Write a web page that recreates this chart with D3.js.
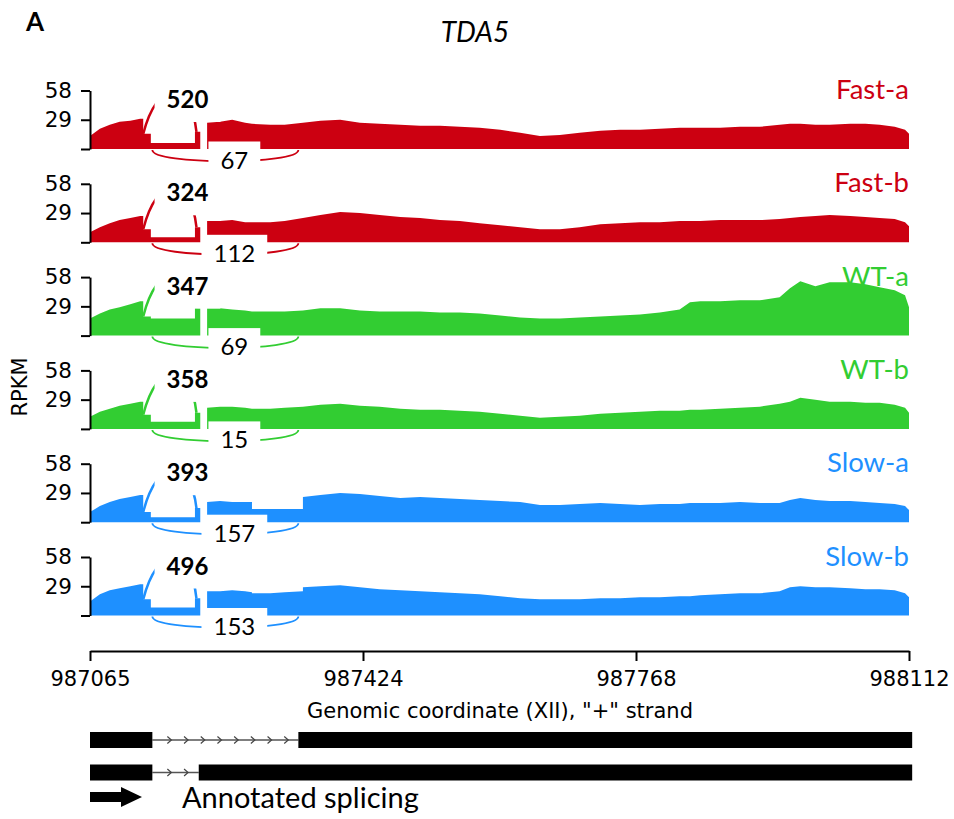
<!DOCTYPE html>
<html>
<head>
<meta charset="utf-8">
<script src="https://cdn.jsdelivr.net/npm/d3@7"></script>
<style>
body { margin: 0; background: #fff; }
svg { display: block; }
</style>
</head>
<body>
<script>
// samples and colours
var samples = ["Fast-a", "Fast-b", "WT-a", "WT-b", "Slow-a", "Slow-b"];
var sampleColors = ["#CC0011", "#CC0011", "#32CD32", "#32CD32", "#1E90FF", "#1E90FF"];

// axis ticks
var xTicks = [987065, 987424, 987768, 988112];
var yTicks = [0, 29, 58];

// coverage positions (genomic coordinate), shared by all samples
var covX = [987065, 987078, 987091, 987104, 987118, 987131, 987135, 987135, 987145, 987145,
            987203, 987203, 987210, 987210, 987219, 987219, 987236, 987252, 987269, 987278,
            987278, 987302, 987321, 987345, 987345, 987368, 987394, 987420, 987445, 987471,
            987496, 987521, 987546, 987571, 987597, 987622, 987647, 987672, 987697, 987723,
            987748, 987773, 987798, 987823, 987836, 987849, 987874, 987899, 987924, 987949,
            987962, 987975, 987994, 988012, 988038, 988057, 988075, 988094, 988107, 988112];

// coverage (RPKM)
var covFastA = [13, 20, 24, 27, 28, 30, 30, 15, 15, 6,
                6, 17, 17, 0, 0, 26, 27, 29, 26, 25,
                25, 24, 24, 26, 26, 28, 29, 26, 25, 24,
                23, 23, 22, 21, 19, 16, 13, 14, 16, 18,
                19, 19, 20, 21, 21, 21, 21, 22, 22, 24,
                25, 25, 24, 24, 25, 25, 24, 22, 19, 15];
var covFastB = [10, 15, 19, 22, 24, 26, 26, 13, 13, 5,
                5, 15, 15, 0, 0, 21, 21, 22, 20, 20,
                20, 20, 21, 24, 24, 27, 30, 29, 27, 25,
                24, 22, 21, 19, 17, 15, 13, 13, 15, 18,
                19, 20, 20, 21, 21, 21, 22, 22, 22, 23,
                24, 25, 26, 27, 26, 25, 24, 23, 20, 16];
var covWTA = [17, 22, 26, 28, 31, 34, 34, 19, 19, 17,
              17, 27, 27, 0, 0, 27, 27, 26, 25, 24,
              24, 24, 24, 25, 25, 27, 27, 25, 24, 24,
              24, 23, 23, 22, 20, 18, 17, 17, 18, 19,
              20, 21, 23, 26, 33, 34, 34, 35, 35, 38,
              47, 54, 49, 53, 53, 51, 48, 45, 40, 28];
var covWTB = [12, 17, 20, 23, 25, 27, 27, 14, 14, 7,
              7, 16, 16, 0, 0, 21, 22, 22, 21, 20,
              20, 20, 21, 22, 22, 24, 25, 23, 22, 20,
              19, 19, 18, 17, 15, 13, 11, 12, 13, 15,
              16, 17, 18, 18, 19, 19, 20, 21, 22, 25,
              27, 31, 29, 27, 27, 26, 26, 24, 21, 16];
var covSlowA = [10, 16, 20, 23, 25, 27, 27, 10, 10, 5,
                5, 14, 14, 0, 0, 20, 21, 20, 20, 20,
                13, 13, 13, 13, 25, 27, 29, 28, 26, 24,
                25, 24, 23, 22, 21, 20, 17, 17, 18, 19,
                18, 17, 18, 18, 19, 19, 19, 20, 19, 19,
                22, 24, 22, 21, 21, 20, 19, 18, 16, 12];
var covSlowB = [14, 21, 25, 27, 29, 31, 31, 16, 16, 8,
                8, 17, 17, 0, 0, 24, 24, 25, 24, 23,
                22, 22, 23, 24, 28, 29, 30, 28, 26, 25,
                24, 23, 22, 21, 19, 17, 16, 16, 16, 17,
                17, 18, 18, 19, 19, 20, 21, 22, 22, 24,
                28, 29, 28, 28, 27, 26, 26, 25, 22, 18];
var coverage = [covFastA, covFastB, covWTA, covWTB, covSlowA, covSlowB];

// junctions: short intron (drawn above) and long intron (drawn below)
var shortJunc = [987135, 987205];
var longJunc = [987147, 987339];
var shortCounts = [520, 324, 347, 358, 393, 496];
var longCounts = [67, 112, 69, 15, 157, 153];

// annotated transcripts
var tx1Exons = [[987065, 987147], [987339, 988116]];
var tx2Exons = [[987065, 987147], [987208, 988116]];

var W = 954, H = 819;
var panelBase0 = 149, panelStep = 93.3;
var sansFont = "Lato, 'Open Sans', sans-serif";
var axisFont = "'DejaVu Sans', sans-serif";

var x = d3.scaleLinear().domain(xTicks).range([90, 363, 636, 909]);

var svg = d3.select("body").append("svg")
    .attr("width", W)
    .attr("height", H);

svg.append("rect").attr("width", W).attr("height", H).attr("fill", "#fff");

svg.append("text")
    .attr("x", 26).attr("y", 31)
    .style("font-family", sansFont).style("font-size", "26px").style("font-weight", "bold")
    .text("A");

svg.append("text")
    .attr("x", 475).attr("y", 42)
    .attr("text-anchor", "middle")
    .style("font-family", sansFont).style("font-size", "28px").style("font-style", "italic")
    .text("TDA5");

function covAt(vals, pos)
{
    var v = vals[0];
    for (var k = 0; k < covX.length; k++) {
        if (covX[k] <= pos) v = vals[k];
    }
    return v;
}

function junctionLabel(g, cx, baseline, txt, bold, padTop, padBottom)
{
    var t = g.append("text")
        .attr("x", cx).attr("y", baseline)
        .attr("text-anchor", "middle")
        .style("font-family", sansFont)
        .style("font-size", "24px")
        .style("font-weight", bold ? "bold" : "normal")
        .attr("fill", "#000")
        .text(txt);
    var b = t.node().getBBox();
    g.insert("rect", function() { return t.node(); })
        .attr("x", b.x - 12).attr("y", b.y - padTop)
        .attr("width", b.width + 24).attr("height", b.height + padTop + padBottom)
        .attr("fill", "#fff");
}

samples.forEach(function(name, i) {
    var base = panelBase0 + i * panelStep;
    var y = d3.scaleLinear().domain([0, 58]).range([base, base - 58.5]);
    var col = sampleColors[i];
    var vals = coverage[i];
    var g = svg.append("g").attr("class", "panel");

    var area = d3.area()
        .x(function(d) { return x(d[0]); })
        .y0(y(0))
        .y1(function(d) { return y(d[1]); });

    g.append("path")
        .datum(covX.map(function(c, k) { return [c, vals[k]]; }))
        .attr("d", area)
        .attr("fill", col);

    // upper arc (short intron)
    var ax0 = x(shortJunc[0]), ax1 = x(shortJunc[1]);
    var ay0 = y(covAt(vals, shortJunc[0] + 1)), ay1 = y(covAt(vals, shortJunc[1]));
    var h = y(0) - y(55);
    g.append("path")
        .attr("d", "M" + ax0 + "," + ay0 + " C" + (ax0 + 14) + "," + (ay0 - h) + " " + (ax1 - 6) + "," + (ay0 - h) + " " + ax1 + "," + ay1)
        .attr("fill", "none").attr("stroke", col).attr("stroke-width", 2.5);

    // lower arc (long intron)
    var bx0 = x(longJunc[0]), bx1 = x(longJunc[1]);
    var by = y(0) + 1, d = 15;
    g.append("path")
        .attr("d", "M" + bx0 + "," + by + " C" + bx0 + "," + (by + d) + " " + bx1 + "," + (by + d) + " " + bx1 + "," + by)
        .attr("fill", "none").attr("stroke", col).attr("stroke-width", 1.8);

    // y axis
    var yAxis = d3.axisLeft(y).tickValues(yTicks).tickSize(9).tickSizeOuter(0).tickPadding(9)
        .tickFormat(function(v) { return v ? v : ""; });
    var ya = g.append("g").attr("transform", "translate(90,0)").call(yAxis);
    ya.selectAll("path, line").attr("stroke", "#000").attr("stroke-width", 2);
    ya.selectAll("text").style("font-family", axisFont).style("font-size", "21.5px").attr("fill", "#000");

    // labels
    junctionLabel(g, ax1 - 9, base - 41, shortCounts[i], true, 3, 9);
    junctionLabel(g, (bx0 + bx1) / 2 + 9, base + 19.5, longCounts[i], false, 3, 3);

    g.append("text")
        .attr("x", 909).attr("y", base - 50)
        .attr("text-anchor", "end")
        .style("font-family", sansFont).style("font-size", "27.5px")
        .attr("fill", col)
        .text(name);
});

// RPKM label
svg.append("text")
    .attr("transform", "translate(27,387) rotate(-90)")
    .attr("text-anchor", "middle")
    .style("font-family", axisFont).style("font-size", "21px")
    .text("RPKM");

// x axis
var xAxis = d3.axisBottom(x).tickValues(xTicks).tickSize(10).tickSizeOuter(0).tickPadding(10)
    .tickFormat(d3.format("d"));
var xa = svg.append("g").attr("transform", "translate(0,651)").call(xAxis);
xa.selectAll("path, line").attr("stroke", "#000").attr("stroke-width", 2);
xa.selectAll("text").style("font-family", axisFont).style("font-size", "21px").attr("fill", "#000");

svg.append("text")
    .attr("x", 500).attr("y", 718)
    .attr("text-anchor", "middle")
    .style("font-family", axisFont).style("font-size", "21px")
    .text("Genomic coordinate (XII), \"+\" strand");

// transcripts
[[tx1Exons, 740], [tx2Exons, 772.5]].forEach(function(row) {
    var exons = row[0], cy = row[1];
    var tg = svg.append("g");
    for (var k = 0; k < exons.length - 1; k++) {
        var s = x(exons[k][1]), e = x(exons[k + 1][0]);
        tg.append("line")
            .attr("x1", s).attr("x2", e).attr("y1", cy).attr("y2", cy)
            .attr("stroke", "#555").attr("stroke-width", 1.3);
        d3.range(s + 17, e - 6, 16.7).forEach(function(cx) {
            tg.append("path")
                .attr("d", "M" + (cx - 2) + "," + (cy - 3.5) + " L" + (cx + 2) + "," + cy + " L" + (cx - 2) + "," + (cy + 3.5))
                .attr("fill", "none").attr("stroke", "#444").attr("stroke-width", 1.2);
        });
    }
    tg.selectAll("rect").data(exons).enter().append("rect")
        .attr("x", function(d) { return x(d[0]); })
        .attr("width", function(d) { return x(d[1]) - x(d[0]); })
        .attr("y", cy - 8).attr("height", 16)
        .attr("fill", "#000");
});

// arrow + legend text
var arX = x(xTicks[0]);
svg.append("path")
    .attr("d", "M" + arX + ",792 L" + (arX + 31) + ",792 L" + (arX + 31) + ",787 L" + (arX + 52) + ",797 L" +
         (arX + 31) + ",807 L" + (arX + 31) + ",802 L" + arX + ",802 Z")
    .attr("fill", "#000");

svg.append("text")
    .attr("x", 182).attr("y", 808)
    .style("font-family", sansFont).style("font-size", "29px")
    .text("Annotated splicing");
</script>
</body>
</html>
